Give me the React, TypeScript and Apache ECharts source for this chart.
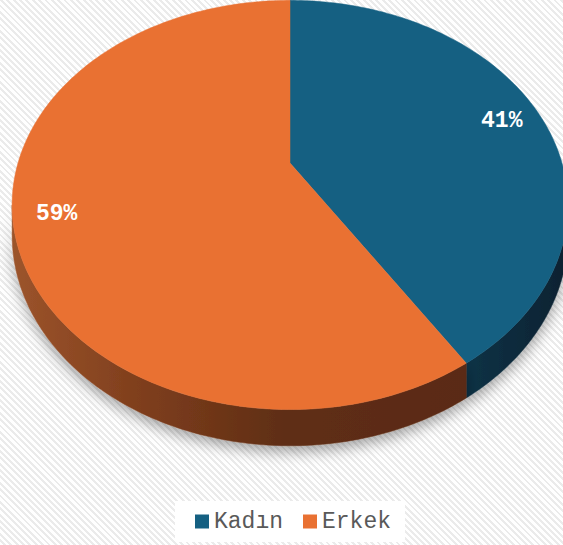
import React, { useEffect, useRef } from 'react';
import * as echarts from 'echarts';

const categories = ['Kadın', 'Erkek'];
const values = [41, 59];
const topColors = ['#156082', '#E97132'];

export default function App() {
  const ref = useRef<HTMLDivElement>(null);
  useEffect(() => {
    document.body.style.margin = '0';
    const chart = echarts.init(ref.current!, null, { renderer: 'svg' });
    const total = values.reduce((s, v) => s + v, 0);
    const starts: number[] = [];
    let acc = 0;
    values.forEach((v) => {
      starts.push((acc / total) * 360);
      acc += v;
    });
    const CX = 290, CY = 163, A = 272, B = 196, R = 0.205, T = 28.8;
    const rad = (d: number) => (d * Math.PI) / 180;
    const proj = (deg: number, k: number) => {
      const t = rad(deg);
      const s = Math.sin(t) * k;
      const c = Math.cos(t) * k;
      const w = 1 + R * c;
      return [CX + (A * s) / w, CY - (B * c) / w];
    };
    const thick = (deg: number) => T / (1 + R * Math.cos(rad(deg)));
    const arc = (d1: number, d2: number) => {
      const n = Math.max(2, Math.ceil(Math.abs(d2 - d1)));
      const pts: number[][] = [];
      for (let i = 0; i <= n; i++) pts.push(proj(d1 + ((d2 - d1) * i) / n, 1));
      return pts;
    };
    const visL = (Math.acos(-R) * 180) / Math.PI;
    const visR = 360 - visL;

    const sideFills = [
      new echarts.graphic.LinearGradient(0, 0, 1, 0, [
        { offset: 0, color: '#0f3246' },
        { offset: 1, color: '#0a2231' },
      ]),
      new echarts.graphic.LinearGradient(0, 0, 1, 0, [
        { offset: 0, color: '#9c542b' },
        { offset: 0.3, color: '#7d3d1c' },
        { offset: 0.6, color: '#5f2e15' },
        { offset: 1, color: '#5a2a12' },
      ]),
    ];

    const monoFont = 'Liberation Mono';

    const sideSeries = {
      type: 'custom',
      coordinateSystem: 'none',
      silent: true,
      z: 1,
      data: values.map((v) => [v]),
      renderItem: (params: any, api: any) => {
        const i = params.dataIndex;
        const d1 = starts[i];
        const d2 = d1 + (api.value(0) / total) * 360;
        const a1 = Math.max(d1, visL);
        const a2 = Math.min(d2, visR);
        if (a2 <= a1) return null;
        const top = arc(a1, a2);
        const bottom = top
          .map((p, j) => {
            const deg = a1 + ((a2 - a1) * j) / (top.length - 1);
            return [p[0], p[1] + thick(deg)];
          })
          .reverse();
        return {
          type: 'polygon',
          shape: { points: top.concat(bottom) },
          style: {
            fill: sideFills[i],
            stroke: sideFills[i],
            lineWidth: 0.5,
            shadowBlur: 14,
            shadowColor: 'rgba(0,0,0,0.35)',
            shadowOffsetY: 6,
          },
        };
      },
    };

    const topSeries = categories.map((name, i) => ({
      type: 'custom',
      name,
      coordinateSystem: 'none',
      z: 2,
      itemStyle: { color: topColors[i] },
      data: [[values[i]]],
      renderItem: (params: any, api: any) => {
        const d1 = starts[i];
        const span = (api.value(0) / total) * 360;
        const d2 = d1 + span;
        const pts = [[CX, CY]].concat(arc(d1, d2));
        const mid = d1 + span / 2;
        const lp = proj(mid, 0.85);
        const color = api.visual('color');
        return {
          type: 'group',
          children: [
            {
              type: 'polygon',
              shape: { points: pts },
              style: { fill: color, stroke: color, lineWidth: 0.5 },
            },
            {
              type: 'text',
              x: lp[0],
              y: lp[1] + 2,
              style: {
                text: Math.round((api.value(0) / total) * 100) + '%',
                fill: '#ffffff',
                fontSize: 23,
                fontWeight: 'bold',
                fontFamily: monoFont,
                align: 'center',
                verticalAlign: 'middle',
              },
            },
          ],
        };
      },
    }));

    chart.setOption({
      animation: false,
      backgroundColor: 'transparent',
      legend: {
        data: categories,
        icon: 'rect',
        itemWidth: 14,
        itemHeight: 14,
        itemGap: 20,
        left: 175,
        top: 501,
        padding: [9, 14, 9, 20],
        backgroundColor: '#ffffff',
        textStyle: {
          fontFamily: monoFont,
          fontSize: 23,
          color: '#595959',
        },
        selectedMode: false,
      },
      series: [sideSeries, ...topSeries],
    });
    return () => chart.dispose();
  }, []);
  return (
    <div
      ref={ref}
      style={{
        width: 563,
        height: 545,
        background:
          'repeating-linear-gradient(45deg, #ffffff 0px, #ffffff 2.5px, #ebebeb 2.5px, #ebebeb 4.5px)',
      }}
    />
  );
}
